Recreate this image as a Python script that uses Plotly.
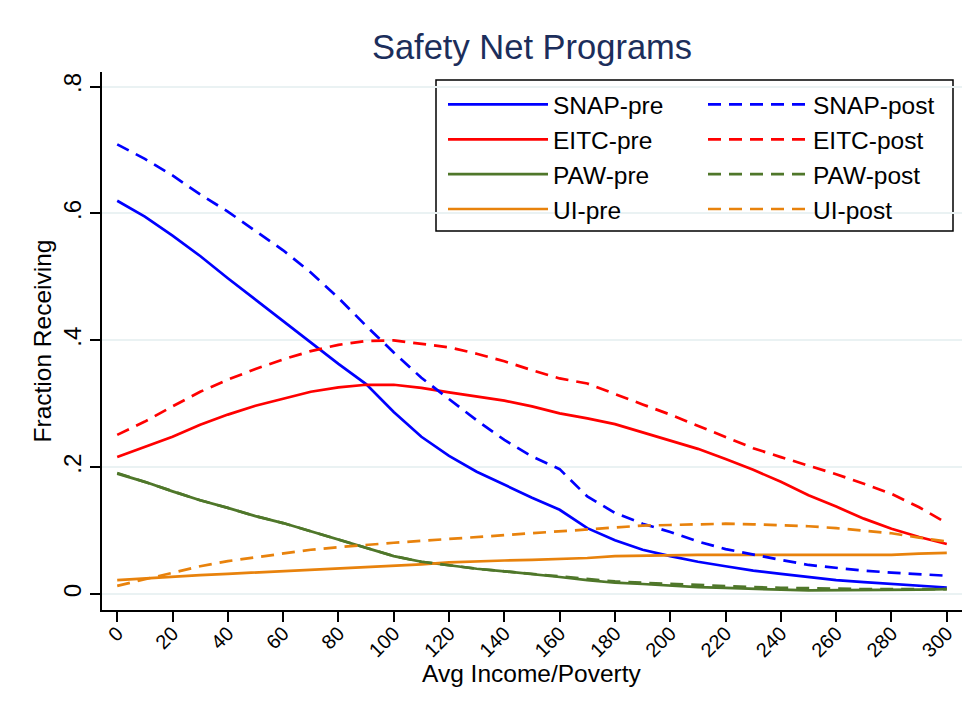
import plotly.graph_objects as go

# Avg Income/Poverty grid
income = [0, 10, 20, 30, 40, 50, 60, 70, 80, 90, 100, 110, 120, 130, 140, 150,
          160, 170, 180, 190, 200, 210, 220, 230, 240, 250, 260, 270, 280, 290, 300]

snap_pre = [0.620, 0.595, 0.565, 0.533, 0.498, 0.464, 0.431, 0.397, 0.363, 0.331, 0.287,
            0.248, 0.218, 0.193, 0.172, 0.152, 0.133, 0.104, 0.085, 0.070, 0.060,
            0.051, 0.044, 0.037, 0.032, 0.027, 0.022, 0.019, 0.016, 0.013, 0.0105]
snap_post = [0.709, 0.686, 0.660, 0.630, 0.603, 0.573, 0.542, 0.507, 0.467, 0.423, 0.381,
             0.341, 0.307, 0.274, 0.243, 0.217, 0.197, 0.154, 0.128, 0.111, 0.098,
             0.083, 0.071, 0.062, 0.054, 0.046, 0.041, 0.037, 0.034, 0.031, 0.029]
eitc_pre = [0.216, 0.232, 0.248, 0.267, 0.283, 0.297, 0.308, 0.319, 0.326, 0.330, 0.330,
            0.325, 0.318, 0.312, 0.305, 0.296, 0.285, 0.277, 0.268, 0.255, 0.242,
            0.229, 0.213, 0.196, 0.177, 0.156, 0.138, 0.119, 0.103, 0.090, 0.079]
eitc_post = [0.251, 0.272, 0.296, 0.319, 0.338, 0.355, 0.370, 0.383, 0.393, 0.399, 0.400,
             0.395, 0.389, 0.379, 0.367, 0.353, 0.340, 0.332, 0.315, 0.299, 0.283,
             0.265, 0.247, 0.230, 0.216, 0.203, 0.189, 0.174, 0.158, 0.137, 0.112]
paw_pre = [0.190, 0.177, 0.162, 0.148, 0.136, 0.123, 0.112, 0.099, 0.086, 0.073, 0.060,
           0.051, 0.045, 0.040, 0.036, 0.032, 0.027, 0.022, 0.018, 0.016, 0.013,
           0.011, 0.010, 0.008, 0.007, 0.006, 0.006, 0.006, 0.006, 0.007, 0.008]
paw_post = [0.191, 0.177, 0.162, 0.148, 0.136, 0.123, 0.112, 0.099, 0.086, 0.073, 0.060,
            0.051, 0.045, 0.040, 0.036, 0.032, 0.027, 0.023, 0.020, 0.018, 0.016,
            0.014, 0.012, 0.011, 0.010, 0.009, 0.008, 0.008, 0.008, 0.008, 0.008]
ui_pre = [0.022, 0.025, 0.028, 0.030, 0.032, 0.034, 0.036, 0.038, 0.040, 0.042, 0.045,
          0.047, 0.050, 0.052, 0.053, 0.054, 0.055, 0.057, 0.060, 0.061, 0.062,
          0.062, 0.062, 0.062, 0.062, 0.062, 0.062, 0.062, 0.062, 0.064, 0.065]
ui_post = [0.013, 0.023, 0.034, 0.044, 0.052, 0.058, 0.064, 0.070, 0.074, 0.078, 0.081,
           0.084, 0.087, 0.090, 0.093, 0.096, 0.100, 0.103, 0.106, 0.108, 0.109,
           0.110, 0.111, 0.110, 0.109, 0.107, 0.104, 0.100, 0.096, 0.089, 0.083]

y_ticks = [0, 0.2, 0.4, 0.6, 0.8]
y_ticktext = ["0", ".2", ".4", ".6", ".8"]

BLUE = "#0000ff"
RED = "#ff0000"
GREEN = "#4f772a"
ORANGE = "#e8820c"
FONT = "Liberation Sans, Arial, sans-serif"
DASH = "13px,8px"

series = [
    ("SNAP-pre", snap_pre, BLUE, "solid", "legend"),
    ("EITC-pre", eitc_pre, RED, "solid", "legend"),
    ("PAW-pre", paw_pre, GREEN, "solid", "legend"),
    ("UI-pre", ui_pre, ORANGE, "solid", "legend"),
    ("SNAP-post", snap_post, BLUE, DASH, "legend2"),
    ("EITC-post", eitc_post, RED, DASH, "legend2"),
    ("PAW-post", paw_post, GREEN, DASH, "legend2"),
    ("UI-post", ui_post, ORANGE, DASH, "legend2"),
]

# page body has an 8px margin, so the figure is 8px smaller than the window
W, H = 968, 707
L, R, T, B = 94, 14, 64, 105
pw, ph = W - L - R, H - T - B


def px_x(p):  # window pixel -> paper x
    return (p - 8 - L) / pw


def px_y(p):  # window pixel -> paper y
    return (H - B - (p - 8)) / ph


fig = go.Figure()
for name, vals, color, dash, leg in series:
    fig.add_trace(go.Scatter(
        x=income, y=vals, mode="lines", name=name, legend=leg, legendgroup=name,
        line=dict(color=color, width=2.7, dash=dash),
    ))

legend_style = dict(
    font=dict(family=FONT, size=24.5, color="black"),
    bgcolor="rgba(0,0,0,0)", borderwidth=0, itemwidth=100,
    tracegroupgap=0, yanchor="top", xanchor="left", y=px_y(82),
)

fig.update_layout(
    width=W, height=H,
    margin=dict(l=L, r=R, t=T, b=B),
    paper_bgcolor="white", plot_bgcolor="white",
    font=dict(family=FONT, color="black"),
    title=dict(text="Safety Net Programs", x=0.5, xref="paper", y=1 - 39 / H,
               yref="container", yanchor="middle",
               font=dict(family=FONT, size=34.5, color="#1c2e5b")),
    legend=dict(x=px_x(443), **legend_style),
    legend2=dict(x=px_x(703), **legend_style),
    xaxis=dict(
        range=[-5.5, 305.5], tick0=0, dtick=20, tickangle=-45,
        showgrid=False, zeroline=False,
        showline=True, linecolor="black", linewidth=1.5,
        ticks="outside", ticklen=10, tickwidth=1.5, tickcolor="black",
        tickfont=dict(size=20), ticklabelstandoff=-8,
    ),
    yaxis=dict(
        range=[-0.025, 0.823], tickvals=y_ticks, ticktext=y_ticktext, tickangle=-90,
        showgrid=True, gridcolor="#eaf2f3", gridwidth=1.5, zeroline=False,
        showline=True, linecolor="black", linewidth=1.5,
        ticks="outside", ticklen=10, tickwidth=1.5, tickcolor="black",
        tickfont=dict(size=24),
        title=dict(text="Fraction Receiving", font=dict(size=24.5), standoff=0),
    ),
)

# x-axis title placed directly so it sits as close to the tick labels as in the original
fig.add_annotation(text="Avg Income/Poverty", xref="paper", yref="paper",
                   x=0.5, y=px_y(673), yanchor="middle", showarrow=False,
                   font=dict(family=FONT, size=24.5, color="black"))

# legend frame around both legend columns
fig.add_shape(type="rect", xref="paper", yref="paper",
              x0=px_x(436), x1=px_x(953), y0=px_y(231), y1=px_y(80),
              line=dict(color="black", width=1.5), fillcolor="white", layer="below")

# faint outer graph-region outline (top and left)
fig.add_shape(type="line", xref="paper", yref="paper",
              x0=px_x(5), x1=1.2, y0=px_y(4), y1=px_y(4),
              line=dict(color="#e4eaec", width=1.5))
fig.add_shape(type="line", xref="paper", yref="paper",
              x0=px_x(5), x1=px_x(5), y0=px_y(4), y1=-0.3,
              line=dict(color="#e4eaec", width=1.5))

fig.write_html("out.html")
